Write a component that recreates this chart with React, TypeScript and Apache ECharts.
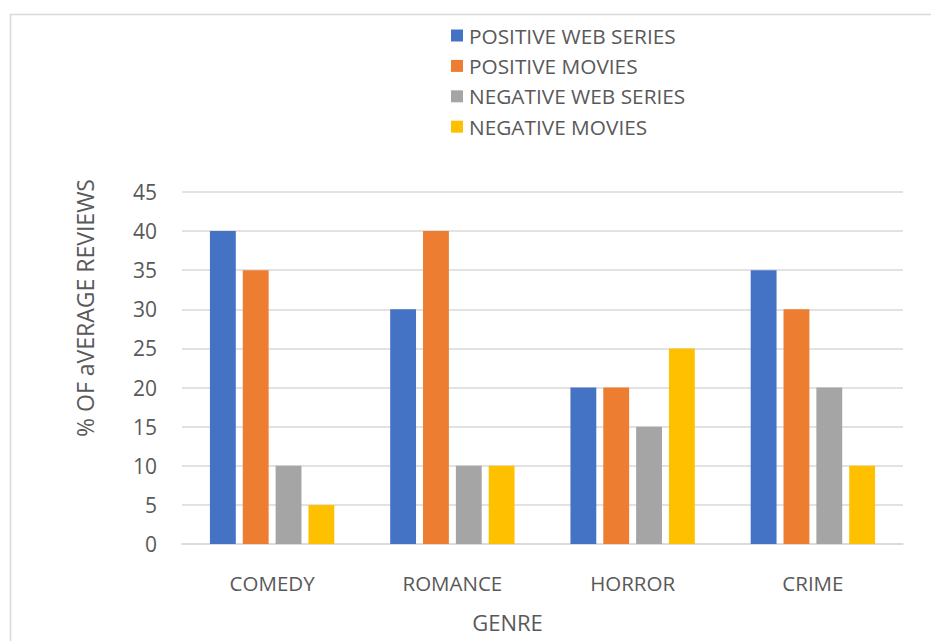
import React, { useEffect, useRef } from "react";
import * as echarts from "echarts";

const categories = ["COMEDY", "ROMANCE", "HORROR", "CRIME"];
const seriesNames = ["POSITIVE WEB SERIES", "POSITIVE MOVIES", "NEGATIVE WEB SERIES", "NEGATIVE MOVIES"];
const positiveWebSeries = [40, 30, 20, 35];
const positiveMovies = [35, 40, 20, 30];
const negativeWebSeries = [10, 10, 15, 20];
const negativeMovies = [5, 10, 25, 10];
const colors = ["#4472C4", "#ED7D31", "#A5A5A5", "#FFC000"];

const FONT = "'Open Sans', 'Liberation Sans', sans-serif";
const TEXT = "#595959";

export default function App() {
  const ref = useRef<HTMLDivElement>(null);
  useEffect(() => {
    if (!ref.current) return;
    const chart = echarts.init(ref.current, null, { renderer: "svg" });
    const values = [positiveWebSeries, positiveMovies, negativeWebSeries, negativeMovies];
    chart.setOption({
      animation: false,
      backgroundColor: "#ffffff",
      textStyle: { fontFamily: FONT },
      graphic: [
        {
          type: "rect",
          left: 8,
          top: 12,
          shape: { width: 1000, height: 1000 },
          style: { fill: "none", stroke: "#d9d9d9", lineWidth: 1.5 },
          silent: true,
        },
      ],
      legend: {
        orient: "vertical",
        left: 446,
        top: 20,
        itemWidth: 12,
        itemHeight: 12,
        itemGap: 9.4,
        icon: "rect",
        textStyle: { color: TEXT, fontSize: 20.8, lineHeight: 20, fontFamily: FONT, padding: [0, 0, 0, 1] },
        data: seriesNames,
      },
      grid: { left: 182, right: 28, top: 192, bottom: 97, containLabel: false },
      xAxis: {
        type: "category",
        data: categories,
        name: "GENRE",
        nameLocation: "middle",
        nameGap: 67,
        nameTextStyle: { color: TEXT, fontSize: 22, fontFamily: FONT, padding: [0, 70, 0, 0] },
        axisLine: { show: true, lineStyle: { color: "#d9d9d9", width: 1.5 } },
        axisTick: { show: false },
        axisLabel: { color: TEXT, fontSize: 20.5, margin: 28, fontFamily: FONT },
      },
      yAxis: {
        type: "value",
        min: 0,
        max: 45,
        interval: 5,
        name: "% OF aVERAGE REVIEWS",
        nameLocation: "middle",
        nameGap: 86,
        nameRotate: 90,
        nameTextStyle: { color: TEXT, fontSize: 23, fontFamily: FONT, padding: [0, 0, 0, 120] },
        axisLine: { show: false },
        axisTick: { show: false },
        axisLabel: { color: TEXT, fontSize: 21, margin: 25, fontFamily: FONT },
        splitLine: { lineStyle: { color: "#d9d9d9", width: 1.5 } },
      },
      series: seriesNames.map((name, i) => ({
        name,
        type: "bar",
        data: values[i],
        barGap: "27%",
        barCategoryGap: "31%",
        itemStyle: { color: colors[i] },
      })),
    });
    return () => chart.dispose();
  }, []);
  return (
    <div
      ref={ref}
      style={{ position: "fixed", left: 0, top: 0, width: 931, height: 641 }}
    />
  );
}
